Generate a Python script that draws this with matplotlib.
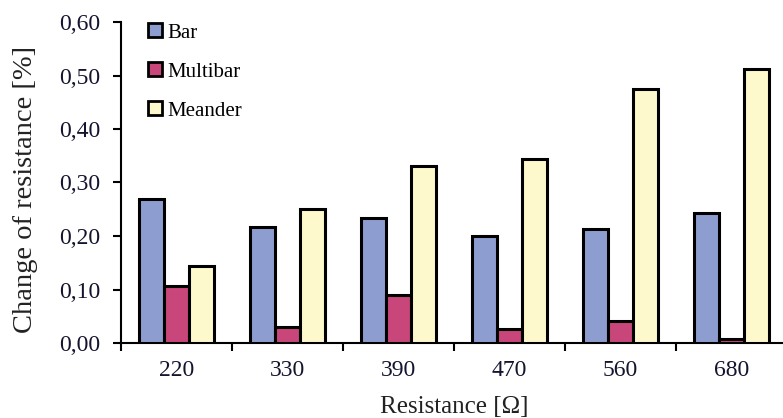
import numpy as np
import matplotlib
matplotlib.use("Agg")
import matplotlib.pyplot as plt
from matplotlib.ticker import FuncFormatter

# values
resistances = ["220", "330", "390", "470", "560", "680"]
bar_vals = [0.269, 0.217, 0.234, 0.200, 0.213, 0.243]
multibar_vals = [0.107, 0.030, 0.090, 0.026, 0.041, 0.007]
meander_vals = [0.144, 0.250, 0.331, 0.344, 0.475, 0.512]
series_names = ["Bar", "Multibar", "Meander"]

BLUE = "#8e9dd0"
PINK = "#c8467a"
YELLOW = "#fdf9cc"
INK = "#14142e"

plt.rcParams["font.family"] = ["Liberation Serif", "DejaVu Serif"]

fig = plt.figure(figsize=(7.83, 4.18), dpi=100)
ax = fig.add_axes([121 / 783, 1 - 343 / 418, 666 / 783, 321 / 418])

x = np.arange(len(resistances))
w = 0.225
for i, (vals, col, name) in enumerate(zip([bar_vals, multibar_vals, meander_vals],
                                          [BLUE, PINK, YELLOW], series_names)):
    ax.bar(x + (i - 1) * w, vals, width=w, color=col, edgecolor="black",
           linewidth=2.2, label=name, zorder=3)

ax.set_xlim(-0.5, len(resistances) - 0.5)
ax.set_ylim(0, 0.6)
ax.set_yticks(np.arange(0, 0.61, 0.1))
ax.yaxis.set_major_formatter(FuncFormatter(lambda v, p: f"{v:.2f}".replace(".", ",")))

# category labels centred, ticks at group boundaries
ax.set_xticks(np.arange(-0.5, len(resistances) + 0.5, 1.0))
ax.set_xticklabels([])
ax.set_xticks(x, minor=True)
ax.set_xticklabels(resistances, minor=True)
ax.tick_params(axis="x", which="minor", length=0, pad=12, labelsize=17, labelcolor=INK)
ax.tick_params(axis="x", which="major", length=6, width=1.5, direction="out")
ax.tick_params(axis="y", length=6, width=1.5, direction="out", labelsize=17,
               labelcolor=INK, pad=9)

ax.spines[["top", "right"]].set_visible(False)
ax.spines["left"].set_linewidth(1.5)
ax.spines["bottom"].set_linewidth(1.5)

ax.set_ylabel("Change of resistance [%]", fontsize=20.5, color="#222222")
ax.yaxis.set_label_coords(-0.124, 0.477)
ax.set_xlabel("Resistance [Ω]", fontsize=18, color="#222222", labelpad=11)

leg = ax.legend(loc="upper left", bbox_to_anchor=(0.022, 1.035), frameon=False,
                fontsize=15, handlelength=0.65, handleheight=0.65,
                handletextpad=0.25, labelspacing=0.95, borderaxespad=0.2)
for h in leg.legend_handles:
    h.set_linewidth(2.0)

fig.savefig("out.png", dpi=100)
